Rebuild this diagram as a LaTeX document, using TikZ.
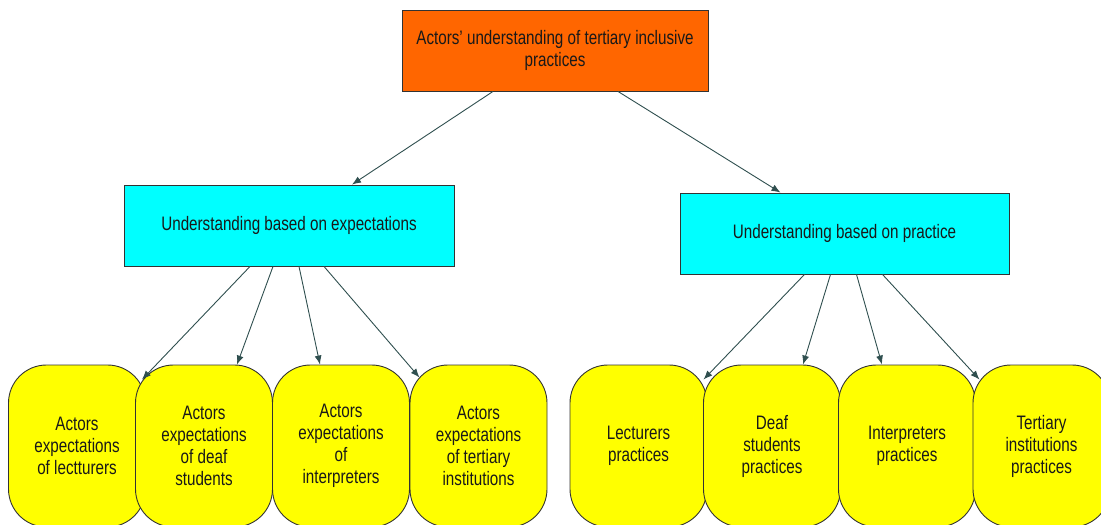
\documentclass[tikz,border=0pt]{standalone}
\usepackage{fontspec}
\setmainfont{Liberation Sans}[FakeStretch=0.78]
\usetikzlibrary{arrows.meta}
\definecolor{rootfill}{HTML}{FF6600}
\definecolor{midfill}{HTML}{00FFFF}
\definecolor{leaffill}{HTML}{FFFF00}
\definecolor{edgecol}{HTML}{2F4F4F}
\definecolor{linecol}{HTML}{333333}
\tikzset{
  boxtext/.style={font=\fontsize{19.5}{22}\selectfont, text=black!90, align=center, inner sep=0pt},
  rootbox/.style={boxtext, draw=linecol, line width=0.9pt, fill=rootfill, minimum width=306pt, minimum height=81pt},
  midbox/.style={boxtext, draw=linecol, line width=0.9pt, fill=midfill, minimum width=330pt, minimum height=81pt},
  leafbox/.style={boxtext, draw=linecol, line width=0.9pt, fill=leaffill, rounded corners=38pt, minimum width=137pt, minimum height=162pt},
  arr/.style={draw=edgecol, line width=0.9pt, -{Latex[length=9pt,width=7pt]}}
}
\begin{document}
\begin{tikzpicture}[x=1pt,y=-1pt]
\useasboundingbox (0,0) rectangle (1101,525);
\clip (0,0) rectangle (1101,525);

% root and the two branches
\node[rootbox] (top) at (555,50.5) {Actors' understanding of tertiary inclusive\\practices};
\node[midbox] (exp) at (289,225.5) {Understanding based on expectations};
\node[midbox, minimum width=329pt] (prac) at (844.5,233.5) {Understanding based on practice};

% expectation leaves
\node[leafbox] (e1) at (77,446) {Actors\\expectations\\of lectturers};
\node[leafbox] (e2) at (204,446) {Actors\\expectations\\of deaf\\students};
\node[leafbox] (e3) at (341,446) {Actors\\expectations\\of\\interpreters};
\node[leafbox] (e4) at (478.5,446) {Actors\\expectations\\of tertiary\\institutions};

% practice leaves
\node[leafbox] (p1) at (638.5,446) {Lecturers\\practices};
\node[leafbox] (p2) at (772,446) {Deaf\\students\\practices};
\node[leafbox] (p3) at (907,446) {Interpreters\\practices};
\node[leafbox] (p4) at (1041.5,446) {Tertiary\\institutions\\practices};

% connectors
\draw[arr] ([xshift=-62pt]top.south) -- ([xshift=63pt]exp.north);
\draw[arr] ([xshift=63pt]top.south) -- ([xshift=-64pt]prac.north);

\draw[arr] ([xshift=-39pt]exp.south) -- ([xshift=65pt,yshift=-15pt]e1.north);
\draw[arr] ([xshift=-16pt]exp.south) -- ([xshift=33pt]e2.north);
\draw[arr] ([xshift=10pt]exp.south) -- ([xshift=-21pt]e3.north);
\draw[arr] ([xshift=35pt]exp.south) -- ([xshift=-59pt,yshift=-13pt]e4.north);

\draw[arr] ([xshift=-40pt]prac.south) -- ([xshift=65pt,yshift=-15pt]p1.north);
\draw[arr] ([xshift=-14pt]prac.south) -- ([xshift=31pt]p2.north);
\draw[arr] ([xshift=12pt]prac.south) -- ([xshift=-25pt]p3.north);
\draw[arr] ([xshift=38pt]prac.south) -- ([xshift=-62pt,yshift=-15pt]p4.north);
\end{tikzpicture}
\end{document}
